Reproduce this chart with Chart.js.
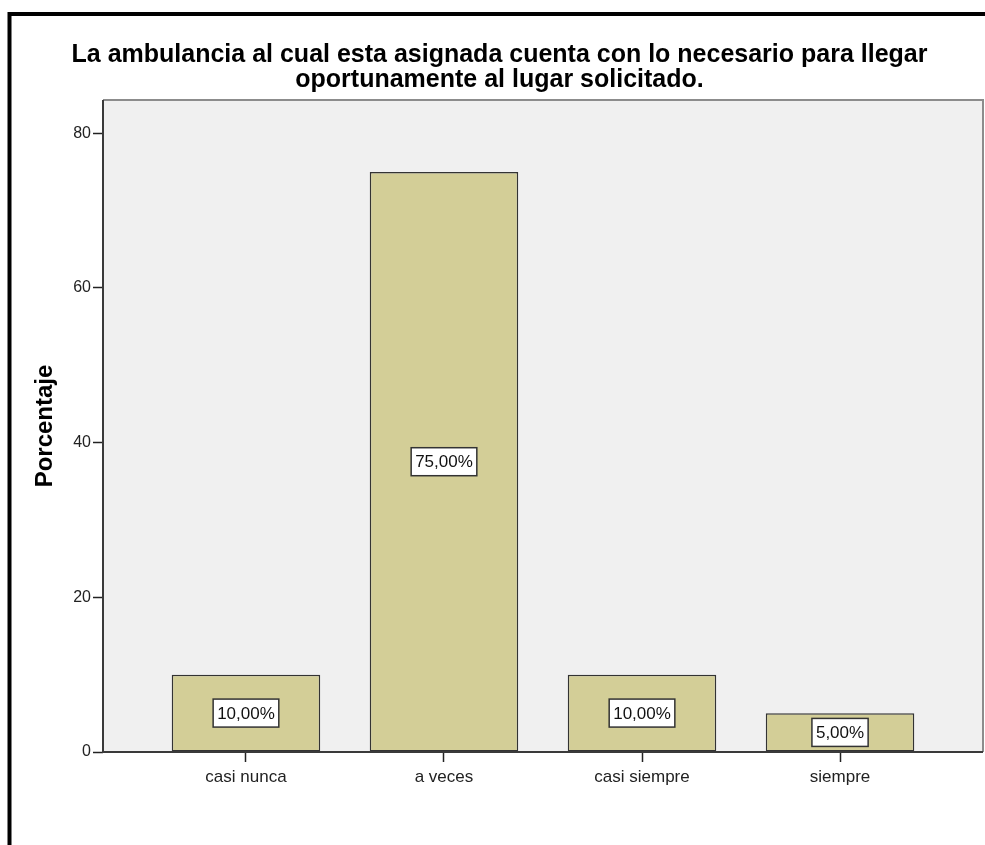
<!DOCTYPE html>
<html>
<head>
<meta charset="utf-8">
<script src="https://cdn.jsdelivr.net/npm/chart.js@4.4.1/dist/chart.umd.min.js"></script>
<style>
  html, body { margin: 0; padding: 0; background: #fff; }
  #wrap { width: 985px; height: 845px; }
</style>
</head>
<body>
<div id="wrap"><canvas id="porcentajeChart" width="985" height="845"></canvas></div>
<script>
const titleLines = [
  'La ambulancia al cual esta asignada cuenta con lo necesario para llegar',
  'oportunamente al lugar solicitado.'
];
const categories = ['casi nunca', 'a veces', 'casi siempre', 'siempre'];
const percentages = [10, 75, 10, 5];
const yTicks = [0, 20, 40, 60, 80];

const FONT = "'Liberation Sans', Arial, sans-serif";

// etiqueta "75,00%" con coma decimal
function formatPct(v) {
  return v.toFixed(2).replace('.', ',') + '%';
}

const framePlugin = {
  id: 'spssFrame',
  beforeDraw(chart) {
    const { ctx, chartArea: a } = chart;
    ctx.save();
    ctx.fillStyle = '#ffffff';
    ctx.fillRect(0, 0, chart.width, chart.height);
    // marco negro exterior
    ctx.strokeStyle = '#000';
    ctx.lineWidth = 4;
    ctx.strokeRect(9.5, 14, 1100, 1000);
    // fondo del área de trazado
    ctx.fillStyle = '#f0f0f0';
    ctx.fillRect(a.left, a.top, a.right - a.left, a.bottom - a.top);
    ctx.restore();
  },
  afterDatasetsDraw(chart) {
    const { ctx, chartArea: a } = chart;
    ctx.save();
    ctx.lineWidth = 2;
    ctx.strokeStyle = '#8c8c8c';
    ctx.beginPath();
    ctx.moveTo(a.left, a.top);
    ctx.lineTo(a.right, a.top);
    ctx.lineTo(a.right, a.bottom);
    ctx.stroke();
    ctx.strokeStyle = '#3a3a3a';
    ctx.beginPath();
    ctx.moveTo(a.left, a.top);
    ctx.lineTo(a.left, a.bottom);
    ctx.lineTo(a.right, a.bottom);
    ctx.stroke();

    // cajas con el valor en el centro de cada barra
    const meta = chart.getDatasetMeta(0);
    ctx.font = '17px ' + FONT;
    ctx.textAlign = 'center';
    ctx.textBaseline = 'middle';
    meta.data.forEach((bar, i) => {
      const text = formatPct(percentages[i]);
      const cx = bar.x;
      const cy = (bar.y + bar.base) / 2;
      const w = ctx.measureText(text).width + 8;
      const h = 28;
      ctx.fillStyle = '#ffffff';
      ctx.fillRect(cx - w / 2, cy - h / 2, w, h);
      ctx.lineWidth = 1.5;
      ctx.strokeStyle = '#333';
      ctx.strokeRect(cx - w / 2, cy - h / 2, w, h);
      ctx.fillStyle = '#111';
      ctx.fillText(text, cx, cy + 1);
    });
    ctx.restore();
  }
};

new Chart(document.getElementById('porcentajeChart'), {
  type: 'bar',
  data: {
    datasets: [{
      data: percentages.map((v, i) => ({ x: i, y: v })),
      backgroundColor: '#d3ce97',
      borderColor: '#333',
      borderWidth: 1.5,
      borderSkipped: false,
      barPercentage: 0.75,
      categoryPercentage: 1
    }]
  },
  options: {
    responsive: false,
    animation: false,
    layout: { padding: { left: 16, right: 2, top: 0, bottom: 0 } },
    plugins: {
      legend: { display: false },
      tooltip: { enabled: false },
      title: {
        display: true,
        text: titleLines,
        color: '#000',
        font: { family: FONT, size: 25, weight: 'bold', lineHeight: '25px' },
        padding: { top: 43, bottom: 7 }
      }
    },
    scales: {
      x: {
        type: 'linear',
        offset: false,
        min: -0.722,
        max: 3.722,
        afterBuildTicks: scale => { scale.ticks = categories.map((c, i) => ({ value: i })); },
        afterFit: scale => { scale.height = 93; },
        ticks: {
          callback: v => categories[v],
          color: '#222',
          font: { family: FONT, size: 17 },
          padding: 5,
          maxRotation: 0,
          autoSkip: false
        },
        grid: {
          offset: false,
          drawOnChartArea: false,
          drawTicks: true,
          tickLength: 10,
          tickColor: '#222',
          tickWidth: 1.5
        },
        border: { display: false }
      },
      y: {
        min: 0,
        max: 84.3,
        afterBuildTicks: scale => { scale.ticks = yTicks.map(v => ({ value: v })); },
        afterFit: scale => { scale.width = 87; },
        ticks: {
          color: '#222',
          font: { family: FONT, size: 16 },
          padding: 2
        },
        grid: {
          drawOnChartArea: false,
          drawTicks: true,
          tickLength: 10,
          tickColor: '#222',
          tickWidth: 1.5
        },
        border: { display: false },
        title: {
          display: true,
          text: 'Porcentaje',
          color: '#000',
          font: { family: FONT, size: 24, weight: 'bold', lineHeight: 1.2 },
          padding: { top: 15, bottom: 0 }
        }
      }
    }
  },
  plugins: [framePlugin]
});
</script>
</body>
</html>
